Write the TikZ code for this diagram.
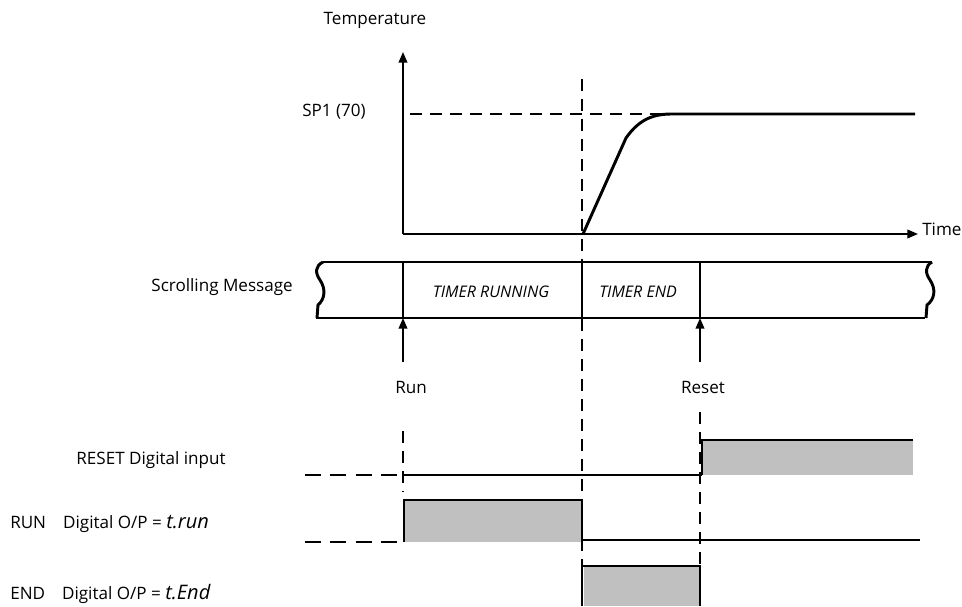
\documentclass[tikz,border=0pt]{standalone}
\usepackage{fontspec}
\setmainfont{Open Sans}
\usepackage{tikz}
\usetikzlibrary{positioning,arrows.meta}
\definecolor{tshade}{HTML}{C0C0C0}
\newcommand{\segtxt}[1]{{\fontsize{15}{16}\selectfont\itshape #1}}

\begin{document}
\begin{tikzpicture}[x=0.75pt, y=-0.75pt, font=\fontsize{12.8}{14}\selectfont,
  sig/.style={line width=2.2pt},
  axis/.style={line width=1.4pt, -{Triangle[length=8pt, width=6.5pt]}},
  guide/.style={line width=1.3pt, dash pattern=on 9pt off 6pt},
  shade/.style={fill=tshade, draw=none},
  lbl/.style={inner sep=0pt},
  msg/.style={inner sep=0pt, font=\fontsize{12}{13}\selectfont\itshape}]
\useasboundingbox (0,0) rectangle (962,606);

% named points
\coordinate (org) at (403,234);
\coordinate (ytop) at (403,52);
\coordinate (xend) at (918,234);
\coordinate (sp) at (410,114);
\coordinate (knee) at (672,114);
\coordinate (start) at (583,234);
\coordinate (runbot) at (403,318);
\coordinate (resbot) at (700,318);

% labels
\node[lbl] (temp) at (375,20) {Temperature};
\node[lbl, anchor=east] (sp1) at (366,112) {SP1 (70)};
\node[lbl, anchor=west] (time) at (922,229) {Time};
\node[lbl, anchor=east] (scroll) at (293,287) {Scrolling Message};
\node[msg] (trun) at (491,292) {TIMER RUNNING};
\node[msg] (tend) at (638,292) {TIMER END};
\node[lbl] (run) at (411,387) {Run};
\node[lbl] (reset) at (703,387) {Reset};
\node[lbl] (resin) at (151,460) {RESET Digital input};
\node[lbl, anchor=west] (runout) at (10,524) {RUN\hspace{1em}Digital O/P = \segtxt{t.run}};
\node[lbl, anchor=west] (endout) at (10,594) {END\hspace{1em}Digital O/P = \segtxt{t.End}};

% temperature graph
\draw[axis] (org) -- (ytop);
\draw[axis] (org) -- (xend);
\draw[guide] (sp) -- (knee);
\draw[guide] (582,79) -- (582,606);
\draw[sig] (start) -- (626,138) .. controls (640,118) and (655,114) .. (knee) -- (915,114);

% scrolling message strip
\draw[sig] (323,262) -- (932,262);
\draw[sig] (316,318) -- (925,318);
\draw[sig] (323,262) .. controls (315,266) and (315,273) .. (320,280)
  .. controls (326,289) and (325,299) .. (318,305) -- (317,318);
\draw[sig] (932,262) .. controls (925,266) and (925,273) .. (930,280)
  .. controls (936,289) and (935,299) .. (927,305) -- (926,318);
\foreach \x in {403,582,700} \draw[sig] (\x,262) -- (\x,318);
\draw[line width=1.3pt, -{Triangle[length=8pt, width=6.5pt]}] (403,362) -- (runbot);
\draw[line width=1.3pt, -{Triangle[length=8pt, width=6.5pt]}] (700,362) -- (resbot);

% event guides
\draw[guide] (403,431) -- (403,492);
\draw[guide] (700,412) -- (700,606);

% RESET digital input
\fill[shade] (703,441) rectangle (913,475);
\draw[sig, dash pattern=on 12pt off 7pt] (305,475) -- (403,475);
\draw[line width=1.6pt] (403,475) -- (702,475);
\draw[sig] (702,475) -- (702,440) -- (913,440);

% RUN digital output
\fill[shade] (405,501) rectangle (581,542);
\draw[sig, dash pattern=on 12pt off 7pt] (305,542) -- (404,542);
\draw[sig] (404,542) -- (404,500) -- (582,500) -- (582,540);
\draw[line width=1.6pt] (582,540) -- (920,540);

% END digital output
\fill[shade] (584,567) rectangle (699,606);
\draw[sig] (582,606) -- (582,566) -- (700,566) -- (700,606);
\end{tikzpicture}
\end{document}
